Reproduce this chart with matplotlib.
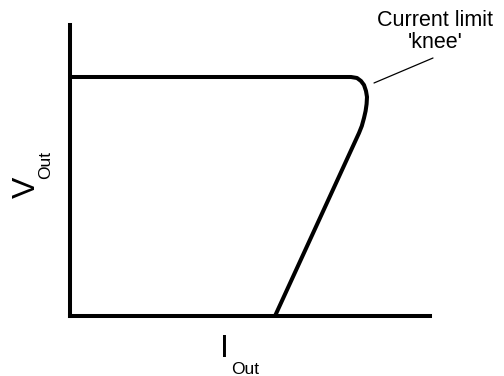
import matplotlib.pyplot as plt

plt.rcParams['font.family'] = 'Liberation Sans'

# V-I curve of a current-limited supply (schematic units)
i_out = [0, 281, 287, 291, 294, 296, 297, 296.6, 295.6, 294, 291.8, 289, 205]
v_out = [239, 239, 238, 235, 231, 225, 219, 212, 205, 198, 190, 183, 0]

label_top = "Current limit"
label_bottom = "'knee'"

fig = plt.figure(figsize=(5.04, 3.76), dpi=100)
ax = fig.add_axes([70 / 504, 60 / 376, 360 / 504, 291 / 376])

ax.plot(i_out, v_out, color='black', lw=2.9, solid_joinstyle='round')

ax.set_xlim(0, 360)
ax.set_ylim(0, 291)
ax.set_xticks([])
ax.set_yticks([])
for side in ['top', 'right']:
    ax.spines[side].set_visible(False)
for side in ['left', 'bottom']:
    ax.spines[side].set_linewidth(2.9)
    ax.spines[side].set_capstyle('projecting')

# leader line to the knee
ax.annotate('', xy=(304, 233), xytext=(363, 258),
            arrowprops=dict(arrowstyle='-', color='black', lw=0.9,
                            shrinkA=0, shrinkB=0),
            annotation_clip=False)
fig.text(435 / 504, 1 - 20 / 376, label_top, ha='center', va='center',
         fontsize=15.5)
fig.text(435 / 504, 1 - 42 / 376, label_bottom, ha='center', va='center',
         fontsize=15.5)

# axis labels with subscripts
fig.text(27 / 504, 1 - 187 / 376, 'V', rotation=90, ha='center',
         va='center', fontsize=23)
fig.text(46 / 504, 1 - 165 / 376, 'Out', rotation=90, ha='center',
         va='center', fontsize=12.5)
fig.text(224 / 504, 1 - 349 / 376, 'I', ha='center', va='center',
         fontsize=23)
fig.text(245 / 504, 1 - 369 / 376, 'Out', ha='center', va='center',
         fontsize=12.5)

fig.savefig('out.png', dpi=100)
